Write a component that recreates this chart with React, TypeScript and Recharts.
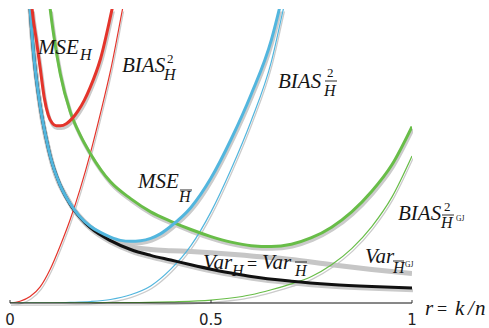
import { LineChart, Line, XAxis, YAxis } from "recharts"

// r = k / n on the x axis, curves (y scaled 0..1 = plot height)
const mseHr = [0.045, 0.055, 0.065, 0.075, 0.085, 0.095, 0.105, 0.115, 0.125, 0.14, 0.155, 0.17, 0.185, 0.2, 0.225, 0.254, 0.27]
const mseHv = [1.2, 1.0, 0.9, 0.8, 0.7, 0.64, 0.612, 0.603, 0.603, 0.61, 0.628, 0.655, 0.69, 0.735, 0.83, 1.0, 1.1]

const biasHr = [0, 0.025, 0.05, 0.075, 0.1, 0.125, 0.15, 0.175, 0.2, 0.225, 0.25, 0.28, 0.3]
const biasHv = [0, 0.006, 0.022, 0.055, 0.115, 0.195, 0.285, 0.39, 0.51, 0.645, 0.79, 1.0, 1.14]

const varHr = [0.045, 0.05, 0.06, 0.075, 0.09, 0.1, 0.125, 0.15, 0.175, 0.2, 0.25, 0.3, 0.35, 0.4, 0.45, 0.5, 0.55, 0.6, 0.7, 0.8, 0.9, 1.0]
const varHv = [1.12, 1.0, 0.83, 0.67, 0.56, 0.5, 0.4, 0.335, 0.29, 0.256, 0.212, 0.182, 0.162, 0.146, 0.13, 0.115, 0.102, 0.09, 0.074, 0.063, 0.056, 0.051]

const biasBarR = [0, 0.1, 0.15, 0.2, 0.25, 0.3, 0.35, 0.4, 0.45, 0.5, 0.55, 0.6, 0.65, 0.68, 0.7]
const biasBarV = [0, 0, 0.002, 0.005, 0.012, 0.028, 0.058, 0.115, 0.195, 0.31, 0.455, 0.62, 0.82, 1.0, 1.12]

const mseBarR = [0.045, 0.05, 0.06, 0.075, 0.09, 0.1, 0.125, 0.15, 0.175, 0.2, 0.225, 0.25, 0.275, 0.3, 0.325, 0.35, 0.375, 0.4, 0.45, 0.5, 0.55, 0.6, 0.65, 0.67, 0.69]
const mseBarV = [1.12, 1.0, 0.83, 0.67, 0.56, 0.5, 0.4, 0.337, 0.292, 0.261, 0.24, 0.224, 0.213, 0.21, 0.212, 0.22, 0.236, 0.261, 0.325, 0.425, 0.557, 0.71, 0.894, 1.0, 1.12]

const varGJr = [0.045, 0.05, 0.075, 0.1, 0.15, 0.2, 0.25, 0.3, 0.35, 0.4, 0.45, 0.5, 0.55, 0.6, 0.7, 0.8, 0.9, 1.0]
const varGJv = [1.12, 1.0, 0.67, 0.5, 0.338, 0.258, 0.216, 0.192, 0.182, 0.178, 0.175, 0.171, 0.166, 0.16, 0.148, 0.13, 0.114, 0.1]

const mseGJr = [0.095, 0.1, 0.11, 0.125, 0.15, 0.175, 0.2, 0.25, 0.3, 0.35, 0.4, 0.45, 0.5, 0.55, 0.6, 0.65, 0.7, 0.75, 0.8, 0.85, 0.9, 0.95, 1.0]
const mseGJv = [1.06, 1.0, 0.9, 0.78, 0.65, 0.57, 0.508, 0.412, 0.355, 0.31, 0.278, 0.25, 0.226, 0.207, 0.195, 0.192, 0.2, 0.222, 0.258, 0.31, 0.38, 0.47, 0.6]

const biasGJr = [0, 0.3, 0.4, 0.5, 0.55, 0.6, 0.65, 0.7, 0.75, 0.8, 0.85, 0.9, 0.95, 1.0]
const biasGJv = [0, 0.001, 0.004, 0.01, 0.017, 0.028, 0.045, 0.065, 0.09, 0.13, 0.185, 0.26, 0.36, 0.5]

const xTicks = [0, 0.5, 1]

const pts = (rs: number[], vs: number[]) => rs.map((r, i) => ({ r, v: vs[i] }))

const mseH = pts(mseHr, mseHv)
const biasH = pts(biasHr, biasHv)
const varH = pts(varHr, varHv)
const biasBar = pts(biasBarR, biasBarV)
const mseBar = pts(mseBarR, mseBarV)
const varGJ = pts(varGJr, varGJv)
const mseGJ = pts(mseGJr, mseGJv)
const biasGJ = pts(biasGJr, biasGJv)

const RED = "#e4342b"
const BLUE = "#52b6de"
const GREEN = "#68bd48"
const SHADOW = "#cbcbcb"

const thick = [
  { key: "varH", data: varH, color: "#111" },
  { key: "mseGJ", data: mseGJ, color: GREEN },
  { key: "mseBar", data: mseBar, color: BLUE },
  { key: "mseH", data: mseH, color: RED },
]
const thin = [
  { key: "biasH", data: biasH, color: RED },
  { key: "biasBar", data: biasBar, color: BLUE },
  { key: "biasGJ", data: biasGJ, color: GREEN },
]

function Tick({ x, y, payload }: any) {
  return (
    <g>
      <line x1={x} x2={x} y1={y} y2={y - 3} stroke="#333" />
      <text x={x} y={y + 22} textAnchor="middle" fontFamily='"DejaVu Sans", sans-serif' fontSize={15} fill="#222">
        {String(payload.value)}
      </text>
    </g>
  )
}

const it = { fontFamily: '"Liberation Serif", serif', fontStyle: "italic", fontSize: 21, fill: "#151515" } as const
const sub = { fontFamily: '"Liberation Serif", serif', fontStyle: "italic", fontSize: 16, fill: "#151515" } as const
const rm = { fontFamily: '"Liberation Serif", serif', fill: "#151515" } as const

export default function App() {
  return (
    <div style={{ position: "relative", width: 489, height: 328, background: "#fff" }}>
      <style>{"body{margin:0} .sh .recharts-curve{transform:translate(1px,2.5px)}"}</style>
      <LineChart width={489} height={328} margin={{ top: 9, right: 77, bottom: 0, left: 10 }}>
        <XAxis
          dataKey="r"
          type="number"
          domain={[0, 1]}
          ticks={xTicks}
          interval={0}
          allowDataOverflow
          height={25}
          tickSize={0}
          tickMargin={0}
          tickLine={false}
          axisLine={{ stroke: "#111" }}
          tick={<Tick />}
        />
        <XAxis xAxisId="top" orientation="top" type="number" domain={[0, 1]} height={0} tick={false} tickLine={false} axisLine={{ stroke: "#777" }} />
        <YAxis type="number" domain={[0, 1]} allowDataOverflow width={0} tick={false} tickLine={false} axisLine={{ stroke: "#666" }} />
        <YAxis yAxisId="right" orientation="right" type="number" domain={[0, 1]} width={0} tick={false} tickLine={false} axisLine={{ stroke: "#bbb" }} />

        {thin.map((s) => (
          <Line key={s.key + "-sh"} className="sh" data={s.data} dataKey="v" type="monotone" stroke={SHADOW} strokeWidth={1.3} dot={false} activeDot={false} isAnimationActive={false} />
        ))}
        {thick.map((s) => (
          <Line key={s.key + "-sh"} className="sh" data={s.data} dataKey="v" type="monotone" stroke={SHADOW} strokeWidth={3.5} dot={false} activeDot={false} isAnimationActive={false} />
        ))}
        <Line data={varGJ} dataKey="v" type="monotone" stroke="#c6c6c6" strokeWidth={5} dot={false} activeDot={false} isAnimationActive={false} />

        {thin.map((s) => (
          <Line key={s.key} data={s.data} dataKey="v" type="monotone" stroke={s.color} strokeWidth={1.2} dot={false} activeDot={false} isAnimationActive={false} />
        ))}
        {thick.map((s) => (
          <Line key={s.key} data={s.data} dataKey="v" type="monotone" stroke={s.color} strokeWidth={3} dot={false} activeDot={false} isAnimationActive={false} />
        ))}
      </LineChart>

      <svg width={489} height={328} style={{ position: "absolute", left: 0, top: 0, pointerEvents: "none" }}>
        {/* MSE_H */}
        <text x={38} y={54} {...it}>MSE</text>
        <text x={80} y={60} {...sub}>H</text>
        {/* BIAS^2_H */}
        <text x={122} y={72} {...it}>BIAS</text>
        <text x={167} y={63} {...rm} fontSize={13}>2</text>
        <text x={164} y={80} {...sub}>H</text>
        {/* BIAS^2_Hbar */}
        <text x={278} y={88} {...it}>BIAS</text>
        <text x={327} y={77} {...rm} fontSize={13}>2</text>
        <line x1={325} x2={337} y1={81} y2={81} stroke="#151515" strokeWidth={0.9} />
        <text x={324} y={96} {...sub}>H</text>
        {/* MSE_Hbar */}
        <text x={138} y={188} {...it}>MSE</text>
        <line x1={180} x2={192} y1={190} y2={190} stroke="#151515" strokeWidth={0.9} />
        <text x={179} y={202} {...sub}>H</text>
        {/* BIAS^2_Hbar^GJ */}
        <text x={398} y={220} {...it}>BIAS</text>
        <text x={444} y={211} {...rm} fontSize={13}>2</text>
        <line x1={442} x2={454} y1={215} y2={215} stroke="#151515" strokeWidth={0.9} />
        <text x={441} y={228} {...sub}>H</text>
        <text x={456} y={221} {...rm} fontSize={7.5}>GJ</text>
        {/* Var_Hbar^GJ */}
        <text x={365} y={263} {...it}>Var</text>
        <line x1={393} x2={404} y1={261} y2={261} stroke="#151515" strokeWidth={0.9} />
        <text x={393} y={273} {...sub}>H</text>
        <text x={405} y={267} {...rm} fontSize={7.5}>GJ</text>
        {/* Var_H = Var_Hbar */}
        <text x={203} y={269} {...it}>Var</text>
        <text x={232} y={276} {...sub}>H</text>
        <text x={247} y={270} {...rm} fontSize={18}>=</text>
        <text x={262} y={269} {...it}>Var</text>
        <line x1={295} x2={307} y1={262} y2={262} stroke="#151515" strokeWidth={0.9} />
        <text x={295} y={276} {...sub}>H</text>
        {/* axis title */}
        <text x={425} y={315} {...it}>r</text>
        <text x={437} y={315} {...rm} fontSize={18}>=</text>
        <text x={455} y={315} {...it}>k</text>
        <text x={468} y={315} {...it}>/</text>
        <text x={475} y={315} {...it}>n</text>
      </svg>
    </div>
  )
}
